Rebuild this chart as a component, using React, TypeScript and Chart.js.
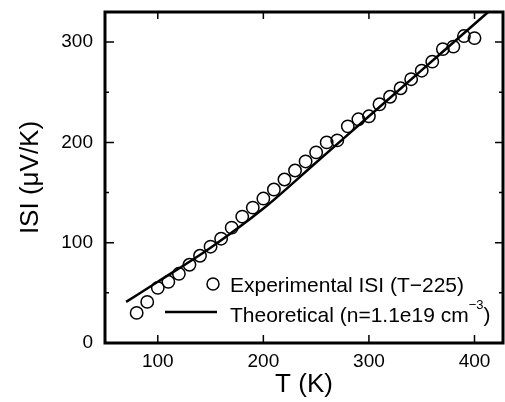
import React, { useEffect, useRef } from "react";
import { Chart, registerables } from "chart.js";

Chart.register(...registerables);

// Experimental |S| data (T in K, |S| in µV/K)
const expT = [80, 90, 100, 110, 120, 130, 140, 150, 160, 170, 180, 190, 200, 210, 220, 230, 240, 250, 260, 270, 280, 290, 300, 310, 320, 330, 340, 350, 360, 370, 380, 390, 400];
const expS = [30, 41, 55, 61, 69, 78, 87, 96, 104, 115, 126, 135, 144, 153, 163, 172, 181, 190, 200, 202, 216, 223, 226, 238, 245.5, 254, 263, 271.5, 280.5, 293, 295.5, 306, 304];

// Theoretical curve
const theoT = [70, 100, 150, 200, 250, 300, 350, 400, 413];
const theoS = [41, 61, 95, 134, 180, 226, 272, 318, 330];

const xTicks = [100, 200, 300, 400];
const yTicks = [0, 100, 200, 300];
const yMinorTicks = [50, 150, 250];

const legendExp = "Experimental ISI (T\u2212225)";
const legendTheoMain = "Theoretical (n=1.1e19 cm";
const legendTheoSup = "\u22123";
const legendTheoEnd = ")";

const FONT = '"Liberation Sans", Arial, Helvetica, sans-serif';

const framePlugin = {
  id: "framePlugin",
  afterDatasetsDraw(chart: any) {
    const { ctx, chartArea } = chart;
    const { left, right, top, bottom } = chartArea;
    const xs = chart.scales.x;
    const ys = chart.scales.y;
    ctx.save();
    ctx.strokeStyle = "#000";
    // ticks
    ctx.lineWidth = 1.5;
    ctx.beginPath();
    xTicks.forEach((v) => {
      const px = xs.getPixelForValue(v);
      ctx.moveTo(px, bottom);
      ctx.lineTo(px, bottom - 8);
      ctx.moveTo(px, top);
      ctx.lineTo(px, top + 7);
    });
    yTicks.forEach((v) => {
      if (v === 0) return;
      const py = ys.getPixelForValue(v);
      ctx.moveTo(left, py);
      ctx.lineTo(left + 9, py);
      ctx.moveTo(right, py);
      ctx.lineTo(right - 8, py);
    });
    yMinorTicks.forEach((v) => {
      const py = ys.getPixelForValue(v);
      ctx.moveTo(left, py);
      ctx.lineTo(left + 4, py);
      ctx.moveTo(right, py);
      ctx.lineTo(right - 4, py);
    });
    ctx.stroke();
    // frame
    ctx.lineWidth = 3;
    ctx.strokeRect(left, top, right - left, bottom - top);

    // legend
    const lx = left + 108;
    const row1 = bottom - 59;
    const row2 = bottom - 31;
    ctx.lineWidth = 1.5;
    ctx.beginPath();
    ctx.arc(lx, row1, 6, 0, Math.PI * 2);
    ctx.stroke();
    ctx.lineWidth = 2.5;
    ctx.beginPath();
    ctx.moveTo(lx - 48, row2);
    ctx.lineTo(lx + 4, row2);
    ctx.stroke();
    ctx.fillStyle = "#000";
    ctx.textBaseline = "alphabetic";
    ctx.textAlign = "left";
    ctx.font = `21px ${FONT}`;
    const tx = lx + 17;
    ctx.fillText(legendExp, tx, row1 + 8);
    ctx.fillText(legendTheoMain, tx, row2 + 10);
    const w1 = ctx.measureText(legendTheoMain).width;
    ctx.font = `13px ${FONT}`;
    ctx.fillText(legendTheoSup, tx + w1, row2 - 3);
    const w2 = ctx.measureText(legendTheoSup).width;
    ctx.font = `21px ${FONT}`;
    ctx.fillText(legendTheoEnd, tx + w1 + w2, row2 + 10);
    ctx.restore();
  },
};

export default function App() {
  const canvasRef = useRef<HTMLCanvasElement | null>(null);

  useEffect(() => {
    document.body.style.margin = "0";
    const canvas = canvasRef.current;
    if (!canvas) return;
    const expData = expT.map((t, i) => ({ x: t, y: expS[i] }));
    const theoData = theoT.map((t, i) => ({ x: t, y: theoS[i] }));
    const chart = new Chart(canvas, {
      type: "scatter",
      data: {
        datasets: [
          {
            label: "Theoretical",
            data: theoData,
            showLine: true,
            borderColor: "#000",
            borderWidth: 2.5,
            pointRadius: 0,
            cubicInterpolationMode: "monotone",
            fill: false,
          } as any,
          {
            label: "Experimental",
            data: expData,
            showLine: false,
            borderColor: "#000",
            backgroundColor: "rgba(0,0,0,0)",
            pointBorderWidth: 1.5,
            pointRadius: 6.2,
            pointStyle: "circle",
          } as any,
        ],
      },
      options: {
        responsive: false,
        animation: false,
        devicePixelRatio: 1,
        layout: { autoPadding: false, padding: { top: 12, right: 2, left: 0, bottom: 0 } },
        plugins: {
          legend: { display: false },
          tooltip: { enabled: false },
        },
        scales: {
          x: {
            type: "linear",
            min: 50,
            max: 427,
            afterBuildTicks: (s: any) => {
              s.ticks = xTicks.map((v) => ({ value: v }));
            },
            afterFit: (s: any) => {
              s.height = 59;
              s.paddingLeft = 0;
              s.paddingRight = 0;
            },
            grid: { display: false, drawTicks: false },
            border: { display: false },
            ticks: {
              color: "#000",
              font: { family: FONT, size: 19 },
              padding: 7,
              maxRotation: 0,
            },
            title: {
              display: true,
              text: "T (K)",
              color: "#000",
              font: { family: FONT, size: 26 },
              padding: { top: 0, bottom: 2 },
            },
          },
          y: {
            type: "linear",
            min: 0,
            max: 330,
            afterBuildTicks: (s: any) => {
              s.ticks = yTicks.map((v) => ({ value: v }));
            },
            afterFit: (s: any) => {
              s.width = 105;
              s.paddingTop = 0;
              s.paddingBottom = 0;
            },
            grid: { display: false, drawTicks: false },
            border: { display: false },
            ticks: {
              color: "#000",
              font: { family: FONT, size: 19 },
              padding: 12,
            },
            title: {
              display: true,
              text: "ISI (\u03bcV/K)",
              color: "#000",
              font: { family: FONT, size: 26 },
              padding: { top: 15, bottom: 0 },
            },
          },
        },
      } as any,
      plugins: [framePlugin],
    });
    return () => chart.destroy();
  }, []);

  return (
    <div style={{ position: "absolute", left: 0, top: 0, width: 505, height: 402, background: "#fff" }}>
      <canvas ref={canvasRef} width={505} height={402} />
    </div>
  );
}
